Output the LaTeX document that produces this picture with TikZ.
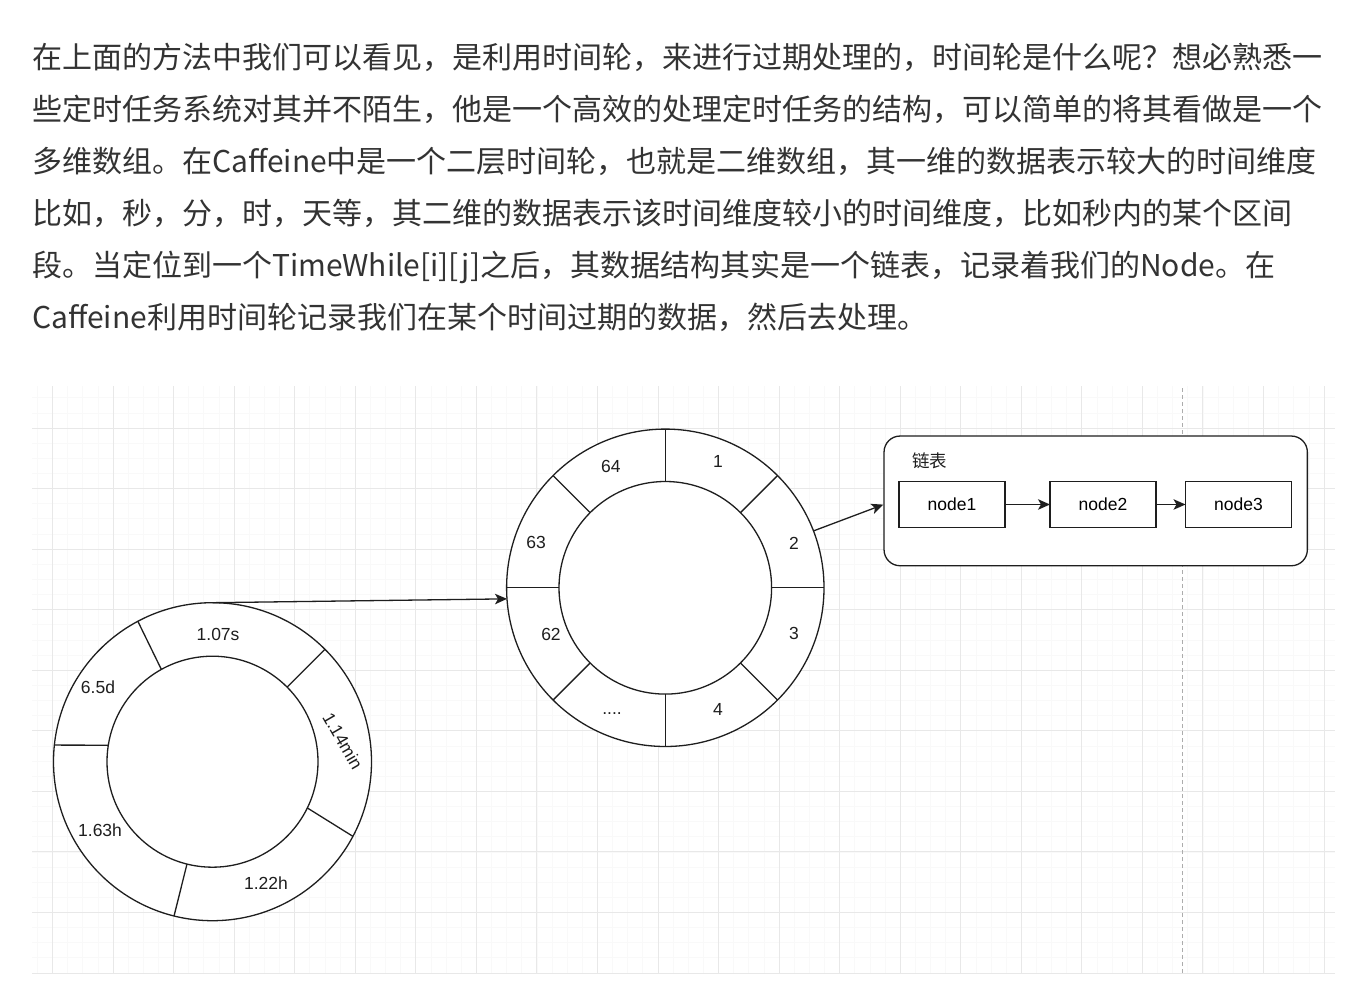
\documentclass[tikz,border=0pt]{standalone}
\usepackage{fontspec}
\setmainfont{Liberation Sans}
\newfontfamily\cjkfont{Noto Sans CJK SC}
\usetikzlibrary{arrows.meta,positioning}

\definecolor{textgray}{HTML}{333333}
\definecolor{inkline}{HTML}{1E1E1E}
\definecolor{gridmajor}{HTML}{E8E8E8}
\definecolor{gridminor}{HTML}{F9F9F9}
\newcommand{\slotdots}{....}

\begin{document}
\begin{tikzpicture}[x=1pt, y=1pt, >={Stealth[length=12pt,width=10.5pt,inset=3pt]},
  para/.style={anchor=west, inner sep=0pt, text=textgray,
    font=\cjkfont\fontsize{30}{30}\selectfont, text height=26.4pt, text depth=3.6pt},
  wheel/.style={circle, draw=inkline, line width=1.3pt, inner sep=0pt, outer sep=0pt},
  spoke/.style={draw=inkline, line width=1.3pt},
  slot/.style={font=\fontsize{17.5}{17.5}\selectfont, text=inkline, inner sep=0pt},
  listcell/.style={draw=inkline, fill=white, line width=1.3pt, minimum width=106pt,
    minimum height=45.6pt, inner sep=0pt, outer sep=0pt, font=\fontsize{17.5}{17.5}\selectfont},
  link/.style={->, line width=1.3pt, draw=inkline}]

\useasboundingbox (0,0) rectangle (1364,996);
\fill[white] (0,0) rectangle (1364,996);

%--- Paragraph above the diagram ---
\node[para] (line1) at (32,939) {在上面的方法中我们可以看见，是利用时间轮，来进行过期处理的，时间轮是什么呢？想必熟悉一};
\node[para] (line2) at (32,887) {些定时任务系统对其并不陌生，他是一个高效的处理定时任务的结构，可以简单的将其看做是一个};
\node[para] (line3) at (32,835) {多维数组。在Caffeine中是一个二层时间轮，也就是二维数组，其一维的数据表示较大的时间维度};
\node[para] (line4) at (32,783) {比如，秒，分，时，天等，其二维的数据表示该时间维度较小的时间维度，比如秒内的某个区间};
\node[para] (line5) at (32,731) {段。当定位到一个TimeWhile[i][j]之后，其数据结构其实是一个链表，记录着我们的Node。在};
\node[para] (line6) at (32,679) {Caffeine利用时间轮记录我们在某个时间过期的数据，然后去处理。};

%--- Grid background ---
\begin{scope}
  \clip (32,22) rectangle (1335,610);
  \draw[gridminor, line width=0.8pt, xshift=52.5pt, yshift=23pt] (-20.5,0) grid[step=15.1375pt] (1282.5,587);
  \draw[gridmajor, line width=1pt, xshift=52.5pt, yshift=23pt] (-20.5,0) grid[step=60.55pt] (1282.5,587);
\end{scope}
\draw[gray!65, line width=1pt, dash pattern=on 4pt off 3pt] (1182,23) -- (1182,610);

%--- Slow wheel (bottom left) ---
\node[wheel, fill=white, minimum size=318pt] (slowOuter) at (212.5,234.3) {};
\node[wheel, minimum size=211pt] (slowInner) at (212.5,234.3) {};
\foreach \a/\b in {118.4/119.5, 45/45, 332/334, 256.7/256, 174.3/171.4}
  \draw[spoke] (slowOuter.\a) -- (slowInner.\b);
\foreach \a/\r/\t [count=\i] in {87.5/127.8/1.07s, 146.9/136.7/6.5d, 211.3/131.6/1.63h, 293.8/132.6/1.22h}
  \node[slot] (slowlbl\i) at ([shift={(\a:\r)}]slowOuter.center) {\t};
\node[slot, rotate=-60] (slowlbl5) at ([shift={(9:132.1)}]slowOuter.center) {1.14min};

%--- Fast wheel (middle) ---
\node[wheel, fill=white, minimum size=317.4pt] (fastOuter) at (665.3,408.2) {};
\node[wheel, minimum size=212.6pt] (fastInner) at (665.3,408.2) {};
\foreach \a in {0,45,...,315}
  \draw[spoke] (fastInner.\a) -- (fastOuter.\a);
\foreach \a/\r/\t [count=\i] in {67.4/137.3/1, 19.2/136.3/2, 340.3/136.7/3, 293.3/133/4,
    247.1/137/\slotdots, 202/123.3/62, 160.8/136.9/63, 114.2/132.6/64}
  \node[slot] (fastlbl\i) at ([shift={(\a:\r)}]fastOuter.center) {\t};

%--- Linked list ---
\node[draw=inkline, fill=white, line width=1.3pt, rounded corners=16pt,
  minimum width=423.3pt, minimum height=129.7pt] (listbox) at (1095.7,495.1) {};
\node[anchor=west, inner sep=0pt, text=inkline, font=\cjkfont\fontsize{17.5}{17.5}\selectfont] (listlabel) at (912,535) {链表};
\node[listcell] (cell1) at (952,491.5) {node1};
\node[listcell, right=45pt of cell1] (cell2) {node2};
\node[listcell, right=29.5pt of cell2] (cell3) {node3};

% Connectors
\draw[link] (slowOuter.north) -- (fastOuter.184.7);
\draw[link] (fastOuter.21) -- (listbox.181.4);
\draw[link] (cell1) -- (cell2);
\draw[link] (cell2) -- (cell3);
\end{tikzpicture}
\end{document}
